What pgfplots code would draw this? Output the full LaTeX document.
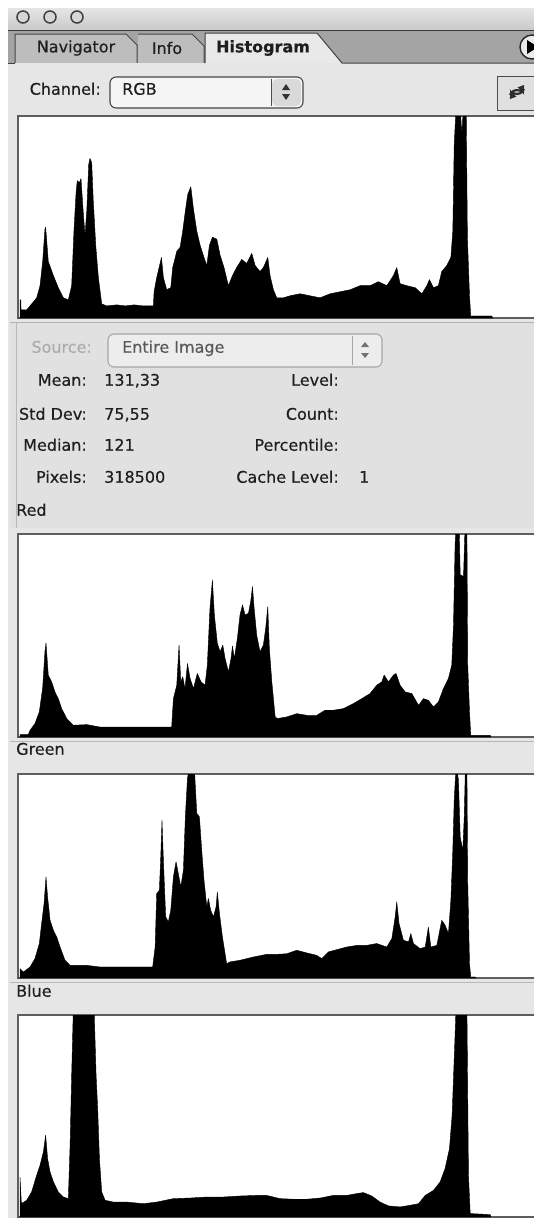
\documentclass[border=0pt]{standalone}
\usepackage{pgfplots}
\pgfplotsset{compat=1.18}
\usepackage{fontspec}
\setmainfont{DejaVu Sans}

\definecolor{panel}{HTML}{E6E6E6}
\definecolor{infobg}{HTML}{E1E1E1}
\definecolor{tabbar}{HTML}{A4A4A4}
\definecolor{tabin}{HTML}{BDBDBD}
\definecolor{tabact}{HTML}{E9E9E9}
\definecolor{frame}{HTML}{5E5E5E}
\definecolor{dimtext}{HTML}{ABABAB}
\definecolor{txt}{HTML}{1E1E1E}

\pgfplotsset{
  histo/.style={
    scale only axis, anchor=north west,
    width=542pt,
    xmin=-1.14, xmax=307.3, ymin=0, ymax=100,
    xtick=\empty, ytick=\empty,
    axis background/.style={fill=white},
    axis line style={draw=frame, line width=1.6pt},
  },
  bars/.style={fill=black, draw=black, line width=0.4pt, line join=round},
}

\begin{document}
\begin{tikzpicture}
\path[use as bounding box] (0,0) rectangle (534pt,-1218pt);
\clip (0,0) rectangle (534pt,-1218pt);
\fill[white] (0,0) rectangle (534pt,-1218pt);

\begin{scope}[x=1pt, y=-1pt, font=\fontsize{16}{19}\selectfont\addfontfeatures{FakeBold=0.35}, every node/.style={inner sep=0pt, text=txt}]
  % panel and title bar
  \fill[panel] (8,8) rectangle (545,1230);
  \shade[top color=white!90!black, bottom color=white!79!black] (8,8) rectangle (545,30);
  \foreach \cx in {23,50,77}
    \draw[gray!50!black, line width=1.5pt, fill=white!84!black] (\cx,17) circle (6);
  % tab bar
  \fill[tabbar] (8,30) rectangle (545,63);
  \draw[gray!45!black, line width=1.2pt] (8,30.6) -- (545,30.6);
  \fill[tabin] (15,34) -- (126,34) -- (137,45) -- (137,63) -- (15,63) -- cycle;
  \fill[tabin] (138,34) -- (192,34) -- (204,46) -- (204,63) -- (138,63) -- cycle;
  \draw[gray!55!black, line width=1pt] (15,63) -- (15,34) -- (126,34) -- (137,45) -- (137,63);
  \draw[gray!55!black, line width=1pt] (138,34) -- (192,34) -- (204,46) -- (204,63);
  \fill[tabact] (205,33) -- (317,33) -- (342,63) -- (545,63) -- (545,64) -- (205,64) -- cycle;
  \fill[panel] (8,63) rectangle (545,115);
  \draw[gray!50!black, line width=1pt] (205,63) -- (205,33) -- (317,33) -- (342,63) -- (545,63);
  \draw[gray!50!black, line width=1pt] (8,63) -- (15,63);
  \node at (76,48) {Navigator};
  \node at (167,48) {Info};
  \node at (263,48) {\bfseries Histogram};
  \draw[gray!30!black, line width=1.4pt, fill=white!92!black] (532,47) circle (12);
  \fill[black] (527,40) -- (538,47) -- (527,54) -- cycle;

  % channel row
  \node[anchor=mid east] at (101,92) {Channel:};
  \draw[gray!55!black, line width=1.1pt, fill=white!96!black, rounded corners=6pt] (110,77) rectangle (303,108);
  \fill[white!85!black, rounded corners=5pt] (272,79) rectangle (301,106);
  \draw[gray!60!black, line width=0.8pt] (271,79) -- (271,106);
  \fill[black!80] (286,84) -- (282,90) -- (290,90) -- cycle;
  \fill[black!80] (282,94) -- (290,94) -- (286,100) -- cycle;
  \node[anchor=mid west] at (122,92) {RGB};
  \draw[gray!60!black, line width=1pt, fill=white!88!black] (497,76) rectangle (545,110);
  \draw[gray!35!black, line width=2.2pt, -latex] (510,95) arc (200:340:7.5);
  \draw[gray!35!black, line width=2.2pt, -latex] (524,89) arc (20:160:7.5);

  % info area
  \fill[infobg] (10,322) rectangle (545,528);
  \draw[white!70!black, line width=0.8pt] (10,322) -- (545,322);
  \draw[white!72!black, line width=1pt] (16,322) -- (16,528);
  \node[anchor=mid east, text=dimtext] at (92,350) {Source:};
  \draw[white!65!black, line width=1.1pt, fill=white!93!black, rounded corners=6pt] (108,334) rectangle (382,367);
  \draw[white!65!black, line width=0.8pt] (352,336) -- (352,365);
  \fill[black!55] (365,342) -- (361,347) -- (369,347) -- cycle;
  \fill[black!55] (361,353) -- (369,353) -- (365,358) -- cycle;
  \node[anchor=mid west, text=black!65] at (122,350) {Entire Image};

  \node[anchor=mid east] at (87,383) {Mean:};
  \node[anchor=mid east] at (87,417) {Std Dev:};
  \node[anchor=mid east] at (87,448) {Median:};
  \node[anchor=mid east] at (87,480) {Pixels:};
  \node[anchor=mid west] at (104,383) {131,33};
  \node[anchor=mid west] at (104,417) {75,55};
  \node[anchor=mid west] at (104,448) {121};
  \node[anchor=mid west] at (104,480) {318500};
  \node[anchor=mid east] at (339,383) {Level:};
  \node[anchor=mid east] at (339,417) {Count:};
  \node[anchor=mid east] at (339,448) {Percentile:};
  \node[anchor=mid east] at (339,480) {Cache Level:};
  \node[anchor=mid west] at (359,480) {1};
  \node[anchor=mid west] at (16,513) {Red};

  % channel labels
  \draw[white!72!black, line width=0.8pt] (10,741) -- (545,741);
  \node[anchor=mid west] at (16,752) {Green};
  \draw[white!72!black, line width=0.8pt] (10,982) -- (545,982);
  \node[anchor=mid west] at (16,994) {Blue};
\end{scope}

% RGB
\begin{axis}[histo, at={(18pt,-116pt)}, height=202pt]
\addplot[bars] coordinates {
(-1,0)(0,0)(0,9)(0.5,9)(0.6,4)(3.8,4)(5.7,6)(9.5,10)(11.4,16)(12.9,28)(14.2,44)(14.6,45)
(16.1,28)(19,21)(21.8,15)(24.7,10)(27.5,9)(29.4,16)(30.7,43)(31.9,62)(32.6,68)(33.8,67)
(34.7,69)(36.1,51)(37,41)(38,53)(39.1,76)(39.8,79)(40.8,77)(41.7,58)(43.1,36)(44.6,20)
(46.5,7)(49.3,6)(55,6.5)(60,6)(65,6.5)(70,6)(75.9,6)(76.3,13)(77.8,20)(80.5,30)(81.6,20)
(83.5,14)(85.8,15)(86.9,25)(89.2,33)(91.1,35)(92.6,43)(94.1,53)(95.4,61)(97.2,65)(98.7,54)
(100.6,43)(102.5,36)(104.7,30)(106.3,26)(107.8,36)(109.5,40)(112,39)(113.9,31)(116.1,25)
(118.6,16)(120.9,21)(123.3,25)(126.2,29)(129,27)(131.9,32)(133.8,26)(136.6,23)(138.5,25)
(141,30)(142.3,21)(144.2,14)(146.1,10)(149.9,10)(153.7,11)(159.4,12)(165.1,11)(170.8,10)
(176.5,12)(182.2,13)(187.9,14)(193.5,16)(199.2,16)(204,18)(208.7,16)(212.5,21)(214.4,25)
(216.3,17)(220.1,16)(224.9,15)(228.7,12)(231.5,16)(233,19)(235.3,15)(238.1,16)(240,23)
(242.9,26)(245.2,30)(246.3,43)(247.1,86)(248.2,105)(250.5,105)(251.4,91)(252.4,105)
(253.9,105)(254.6,40)(255.8,11)(256.5,1)(268.5,1)(269,0)
} \closedcycle;
\end{axis}

% Red
\begin{axis}[histo, at={(18pt,-534pt)}, height=203pt]
\addplot[bars] coordinates {
(-1,0)(0,0)(0,1.2)(4.7,1.2)(5.7,3.3)(8.5,6.6)(11,12.4)(12.9,24.2)(14.2,42.2)(14.8,46.3)
(16.1,30.5)(18,27.2)(19.9,22.2)(21.8,18.9)(23.7,14)(26.6,9.1)(30.4,5.8)(38,6.1)(45.5,4.9)
(64.5,4.9)(86.3,4.9)(87.3,18.9)(89.2,25.5)(90.5,45.3)(91.5,27.2)(92.6,29.7)(93.9,23.9)
(95.3,36.2)(96.8,28.8)(98.7,23.9)(100.9,31.3)(103,27.2)(105.3,25.5)(106.6,35.4)(108.1,63.4)
(109.5,77.4)(110.6,60.1)(112.3,46.1)(113.9,42)(115.4,45.3)(116.7,38.7)(118.6,32.1)
(120.1,38.7)(120.9,44.8)(122,38.7)(123.7,48.6)(125.2,60.1)(126.6,65.1)(128.1,60.1)
(130,60.9)(131.3,66.9)(132.3,74.1)(133.2,63.8)(134.7,50.2)(136.6,42)(138.5,45.3)
(139.8,53.5)(141,64.2)(141.9,43.7)(143.3,27.2)(145.2,9.9)(146.5,9.1)(151.8,9.9)
(157.5,11.5)(163.2,10.7)(168.9,10.7)(173.6,13.2)(178.4,13.2)(184.1,14)(189.8,16.5)
(194.5,18.9)(199.2,21.4)(203,25.5)(205.9,27.2)(207.2,30.5)(209.7,27.2)(212.5,30.5)
(214,31.3)(216.3,25.5)(219.2,22.2)(223,21.4)(226.8,15.6)(229.6,18.9)(232.4,18.1)
(235.3,14.8)(238.1,17.3)(241,23.9)(243.8,28.8)(245.7,35.4)(246.7,55.4)(247.6,94.9)
(248.2,105)(249.9,105)(250.5,79.9)(252.4,79.1)(253.3,105)(254.3,105)(254.8,35.4)
(255.8,12.4)(256.5,0.8)(267.6,0.8)(268,0)
} \closedcycle;
\end{axis}

% Green
\begin{axis}[histo, at={(18pt,-774pt)}, height=204pt]
\addplot[bars] coordinates {
(-1,0)(0,0)(0,4.6)(1.9,2.9)(5.7,5.4)(8.5,9.5)(11,16.9)(12.3,26.7)(13.7,36.5)(14.8,49.6)
(15.7,39.8)(17.1,28.3)(19,23.4)(20.9,20.1)(22.8,15.2)(25.6,8.7)(28.5,6.2)(38,6.2)(45.5,5.4)
(64.5,5.4)(75.5,5.4)(76.9,15.2)(77.8,41.4)(79.3,43)(80.1,59.4)(80.8,77.4)(81.6,57.8)
(82.9,30)(84.4,27.5)(85.8,33.2)(87.3,49.6)(88.8,57)(90.1,51.2)(91.5,44.7)(93,52.9)
(94.1,79)(95.3,97.9)(96.8,105)(99.1,105)(100.6,80.7)(102.1,79)(103.4,62.7)(104.7,48)
(106.3,34.9)(107.2,39)(108.5,33.2)(110.1,30)(111.6,34.9)(112.3,42.2)(113.5,31.6)
(115.2,20.1)(117.6,7)(119.5,7.9)(125.2,8.7)(132.8,10.3)(140.4,11.6)(146.1,11.6)
(151.8,11.9)(157.5,13.6)(163.2,12.3)(168.9,11.1)(171.7,9.5)(175.5,12.8)(180.3,13.9)
(186,15.2)(191.7,16)(197.3,16)(203,16.9)(208.7,15.2)(211.6,19.3)(213.5,30)(214.4,37.3)
(215.7,26.7)(218.2,18.5)(221.1,17.7)(222.4,21.8)(223.9,16.9)(227.7,14.4)(230.6,15.2)
(232.4,25)(233.8,15.2)(237.2,16)(240,28.3)(241.9,25.9)(243.8,21.8)(245.2,38.1)
(246.3,62.7)(247.1,87.2)(248.2,105)(249.5,97)(250.5,69.2)(252,62.7)(252.8,79)
(253.5,105)(254.3,105)(254.8,46.3)(255.8,7)(256.5,0.5)(259,0.5)(259.5,0)
} \closedcycle;
\end{axis}

% Blue
\begin{axis}[histo, at={(18pt,-1015pt)}, height=202pt]
\addplot[bars] coordinates {
(-1,0)(0,0)(0,19.8)(0.8,6.6)(3.8,8.3)(6.6,12.4)(9.5,20.7)(11.4,25.6)(13.3,32.2)(14.6,40.5)
(15.7,28.9)(17.1,22.3)(19,17.4)(21.8,12.4)(24.7,9.9)(27.5,9.1)(28.5,35.5)(29.4,70.2)
(30.4,105)(42.1,105)(43.3,70.2)(44.2,53.7)(45.2,28.9)(46.5,12.4)(48.4,8.3)(53.1,7.4)
(60.7,7.4)(70.2,6.6)(77.8,7.4)(87.3,9.1)(96.8,9.4)(106.3,9.9)(115.7,9.9)(125.2,10.4)
(134.7,10.7)(140.4,10.7)(148,9.1)(155.6,8.8)(163.2,8.8)(170.8,9.4)(178.4,10.7)(186,10.7)
(191.7,11.6)(195.4,12.1)(200.2,10.4)(204.9,7.4)(209.7,5.5)(216.3,5)(222,5.8)(226.8,6.6)
(230.6,10.7)(235.3,13.2)(239.1,17.4)(241.9,24)(244.4,33.9)(245.9,50.4)(247.1,78.5)
(248.2,105)(254.3,105)(255.2,20.7)(256.2,1.7)(267.6,1.2)(268,0)
} \closedcycle;
\end{axis}
\end{tikzpicture}
\end{document}
